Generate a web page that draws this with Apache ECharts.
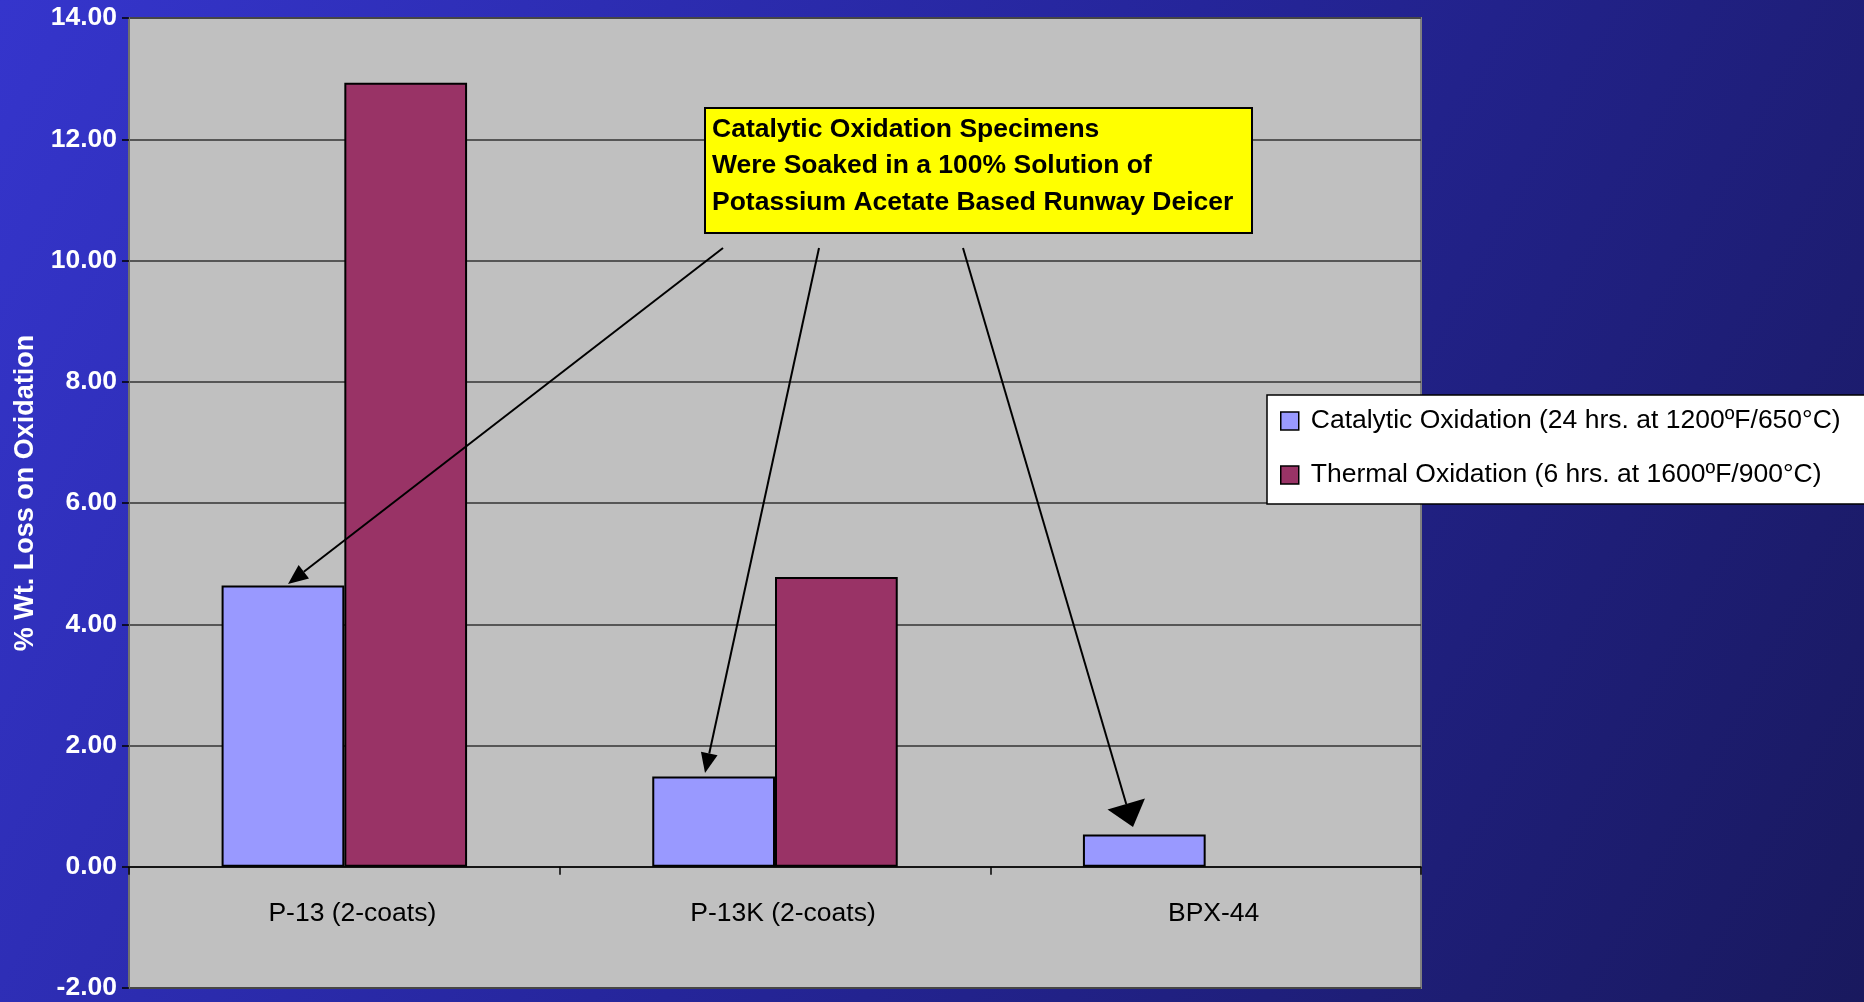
<!DOCTYPE html>
<html>
<head>
<meta charset="utf-8">
<script src="https://cdn.jsdelivr.net/npm/echarts@6/dist/echarts.min.js"></script>
<style>
html,body{margin:0;padding:0;width:1864px;height:1002px;overflow:hidden;}
#chart{width:1864px;height:1002px;}
</style>
</head>
<body>
<div id="chart"></div>
<script>
var categories = ['P-13 (2-coats)', 'P-13K (2-coats)', 'BPX-44'];
var seriesNames = ['Catalytic Oxidation (24 hrs. at 1200ºF/650°C)', 'Thermal Oxidation (6 hrs. at 1600ºF/900°C)'];
var catalytic = [4.64, 1.49, 0.53];
var thermal = [12.93, 4.78, null];
var yTicks = { min: -2, max: 14, interval: 2 };
var yAxisTitle = '% Wt. Loss on Oxidation';
var noteLines = ['Catalytic Oxidation Specimens', 'Were Soaked in a 100% Solution of', 'Potassium Acetate Based Runway Deicer'];

var FONT = '"Liberation Sans", Arial, sans-serif';

function arrow(x1, y1, x2, y2, headLen, headW) {
  var dx = x2 - x1, dy = y2 - y1;
  var L = Math.sqrt(dx * dx + dy * dy);
  var ux = dx / L, uy = dy / L;
  var bx = x2 - ux * headLen, by = y2 - uy * headLen;
  var px = -uy, py = ux;
  return [
    { type: 'line', shape: { x1: x1, y1: y1, x2: bx, y2: by }, style: { stroke: '#000', lineWidth: 2 }, z: 100 },
    { type: 'polygon', shape: { points: [[x2, y2], [bx + px * headW / 2, by + py * headW / 2], [bx - px * headW / 2, by - py * headW / 2]] }, style: { fill: '#000' }, z: 100 }
  ];
}

var chart = echarts.init(document.getElementById('chart'));
var graphics = [
  { type: 'rect', shape: { x: 705, y: 108, width: 547, height: 125 }, style: { fill: '#FFFF00', stroke: '#000', lineWidth: 2 }, z: 100 },
  { type: 'text', x: 712, y: 111, style: { text: noteLines.join('\n'), font: 'bold 26.5px ' + FONT, fill: '#000', lineHeight: 36.5 }, z: 101 }
].concat(arrow(723, 248, 288, 584, 20, 17))
 .concat(arrow(819, 248, 705, 773, 20, 17))
 .concat(arrow(963, 248, 1133, 827, 24, 39));

chart.setOption({
  animation: false,
  backgroundColor: {
    type: 'linear', x: 0, y: 0, x2: 1, y2: 1,
    colorStops: [{ offset: 0, color: '#3535CC' }, { offset: 0.5, color: '#25259A' }, { offset: 1, color: '#19195E' }]
  },
  grid: {
    left: 129, right: 443, top: 18, bottom: 14,
    containLabel: false, outerBoundsMode: 'none',
    show: true, backgroundColor: '#C0C0C0', borderColor: '#808080', borderWidth: 2
  },
  legend: {
    orient: 'vertical',
    left: 1267, top: 395,
    backgroundColor: '#FFFFFF', borderColor: '#000', borderWidth: 1.5,
    padding: [11, 40, 14, 13],
    itemGap: 24, itemWidth: 18, itemHeight: 18,
    icon: 'rect',
    itemStyle: { borderColor: '#000', borderWidth: 1.5 },
    textStyle: { color: '#000', fontFamily: FONT, fontSize: 26.5, lineHeight: 30, padding: [0, 0, 0, 7] },
    data: seriesNames
  },
  xAxis: {
    type: 'category',
    data: categories,
    axisLine: { onZero: true, lineStyle: { color: '#000', width: 1.5 } },
    axisTick: { show: true, length: 8, lineStyle: { color: '#000', width: 1.5 } },
    axisLabel: { color: '#000', fontFamily: FONT, fontSize: 26.5, margin: -88, padding: [0, 0, 0, 16] },
    splitLine: { show: false }
  },
  yAxis: {
    type: 'value',
    min: yTicks.min, max: yTicks.max, interval: yTicks.interval,
    name: yAxisTitle,
    nameLocation: 'middle', nameRotate: 90, nameGap: 90,
    nameTextStyle: { color: '#FFFFFF', fontFamily: FONT, fontSize: 27, fontWeight: 'bold', padding: [0, 0, 0, 20] },
    axisLine: { show: true, lineStyle: { color: '#707070', width: 2 } },
    axisTick: { show: true, length: 7, lineStyle: { color: '#000', width: 1.5 } },
    axisLabel: {
      color: '#FFFFFF', fontFamily: FONT, fontSize: 26.5, fontWeight: 'bold', margin: 12,
      formatter: function (v) { return v.toFixed(2); }
    },
    splitLine: { show: true, lineStyle: { color: '#333', width: 1.5 } }
  },
  series: [
    {
      name: seriesNames[0], type: 'bar', data: catalytic,
      barGap: '0%', barCategoryGap: '43%',
      itemStyle: { color: '#9999FF', borderColor: '#000', borderWidth: 2 }
    },
    {
      name: seriesNames[1], type: 'bar', data: thermal,
      barGap: '0%', barCategoryGap: '43%',
      itemStyle: { color: '#993366', borderColor: '#000', borderWidth: 2 }
    }
  ],
  graphic: graphics
});
</script>
</body>
</html>
